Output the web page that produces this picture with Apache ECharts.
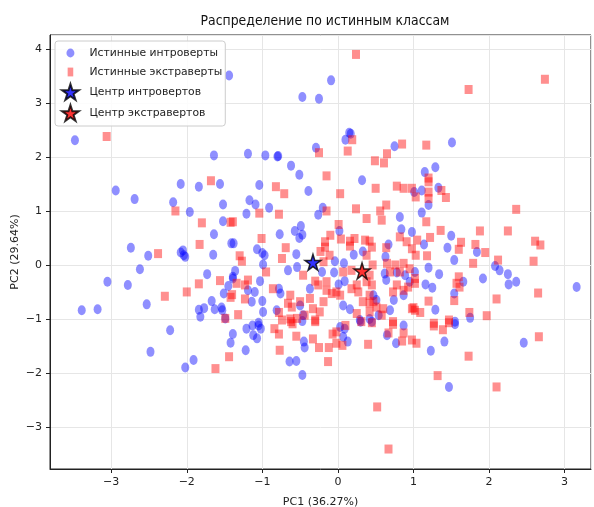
<!DOCTYPE html>
<html>
<head>
<meta charset="utf-8">
<script src="https://cdn.jsdelivr.net/npm/echarts@6/dist/echarts.min.js"></script>
<style>
  html, body { margin: 0; padding: 0; background: #fff; }
  #chart { width: 594px; height: 507px; }
</style>
</head>
<body>
<div id="chart"></div>
<script>
// PCA projection, coloured by true class
const introverts = [
  [-1.44,3.52],[-3.48,2.32],[-1.64,2.04],[-0.09,3.43],[-0.47,3.12],[-0.25,3.09],[0.15,2.46],[0.17,2.44],
  [0.10,2.33],[-0.29,2.18],[0.75,2.21],[-1.19,2.07],[-0.96,2.04],[-0.80,2.02],[-0.79,2.03],[-0.62,1.85],
  [-0.51,1.68],[0.32,1.58],[1.51,2.28],[1.29,1.82],[1.15,1.73],
  [-2.94,1.39],[-2.69,1.23],[-2.08,1.51],[-1.84,1.46],[-1.56,1.51],[-2.18,1.17],[-1.96,0.99],[-1.52,1.13],
  [-1.52,0.82],[-1.64,0.58],[-1.41,0.41],[-2.74,0.33],[-2.51,0.18],[-2.05,0.28],[-2.08,0.24],[-2.02,0.16],
  [-2.04,0.19],[-1.65,0.20],[-2.62,-0.07],[-1.73,-0.16],[-3.05,-0.30],[-2.78,-0.36],[-1.45,-0.38],[-1.39,-0.24],
  [-1.51,-0.52],[-3.39,-0.83],[-3.18,-0.81],[-2.53,-0.72],[-1.67,-0.66],[-1.84,-0.82],[-1.77,-0.79],[-1.82,-0.95],
  [-1.63,-0.81],[-1.54,-0.78],[-1.53,-0.83],[-1.49,-0.98],
  [-2.22,-1.20],[-2.48,-1.60],[-1.91,-1.75],[-2.02,-1.89],[-1.39,-1.27],[-1.42,-1.43],
  [-1.22,-1.57],[-1.21,-1.17],[-1.13,-1.11],[-1.05,-1.11],[-1.02,-1.17],[-1.12,-1.29],[-1.07,-1.35],[-0.64,-1.78],
  [-0.55,-1.77],[-0.47,-2.03],[-0.45,-1.41],[-0.44,-1.52],[0.03,-1.14],[0.09,-1.17],[0.07,-1.32],[0.13,-1.41],
  [0.30,-1.04],[0.45,-1.04],[0.87,-1.11],[0.65,-1.29],[0.77,-1.44],
  [1.55,-1.09],[1.75,-0.97],[1.41,-1.41],[1.23,-1.58],[1.47,-2.25],[2.46,-1.43],
  [3.16,-0.40],[1.84,0.25],[2.08,-0.01],[2.14,-0.09],[2.25,-0.16],[2.26,-0.35],[2.36,-0.30],[1.92,-0.24],
  [1.50,0.55],[1.45,0.33],[1.54,0.10],[1.34,-0.16],[1.20,-0.04],[1.66,-0.30],[1.54,-0.52],[1.16,-0.35],
  [1.25,-0.41],[1.29,-0.82],[1.55,-1.04],[1.14,0.39],[0.98,0.62],[1.20,1.12],[1.11,0.98],[1.11,1.39],
  [1.01,1.36],[1.33,1.44],
  [-1.04,1.49],[-1.17,1.21],[-1.09,1.13],[-0.91,1.07],[-1.21,0.96],[-0.39,1.38],[-0.20,1.07],[-0.26,0.94],
  [0.82,0.90],[0.84,0.67],[-0.77,0.58],[-0.57,0.64],[-0.49,0.73],[-0.51,0.51],[-0.47,0.57],[0.02,0.64],
  [-1.38,0.41],[-1.07,0.30],[-1.00,0.23],[-0.97,0.19],[-0.55,0.21],[-0.66,-0.09],[-0.54,-0.03],[-0.99,0.02],
  [-1.36,-0.10],[-1.39,-0.21],[-0.21,-0.12],[-0.05,-0.13],[-0.04,0.08],[0.08,0.04],[0.21,0.20],[0.33,0.26],
  [0.63,0.16],[0.67,0.39],[0.62,-0.15],[0.64,-0.27],[0.78,-0.13],[-1.03,-0.29],[-1.19,-0.46],[-1.10,-0.49],
  [-0.78,-0.43],[-0.76,-0.52],[-0.37,-0.43],[0.09,-0.29],[0.01,-0.35],[-1.14,-0.67],[-1.00,-0.66],[-0.99,-0.86],
  [-0.81,-0.83],[-0.50,-0.74],[0.07,-0.74],[0.16,-0.81],[0.47,-0.55],[0.51,-0.64],[0.74,-0.64],[0.69,-0.83],
  [0.29,-1.01],[0.42,-0.99],[0.54,-0.92],[-0.47,-1.03],[-0.46,-0.92],[-1.05,-1.06],[0.95,-0.30],[0.89,-0.18],
  [1.02,-0.12],[0.87,-0.55]
]

const extraverts = [
  [-3.06,2.39],[0.24,3.91],[0.19,2.33],[0.13,2.12],[-0.25,2.09],[0.85,2.25],[0.65,2.07],[0.49,1.94],
  [0.61,1.90],[-0.15,1.66],[1.73,3.26],[2.74,3.45],[1.17,2.23],[1.20,1.62],
  [-1.68,1.57],[-2.15,1.01],[-1.80,0.79],[-1.42,0.80],[-1.83,0.39],[-2.38,0.22],[-1.84,-0.34],[-1.56,-0.28],
  [-2.29,-0.57],[-2.00,-0.49],[-1.42,-0.59],[-1.49,-0.98],[-1.62,-1.91],[-1.44,-1.69],
  [-0.84,-1.17],[-0.78,-1.27],[-0.77,-1.57],[-0.55,-1.31],[-0.33,-1.36],[-0.25,-1.52],[-0.12,-1.52],[-0.13,-1.78],
  [-0.30,-1.04],[-0.62,-1.04],[-0.60,-1.08],[-0.07,-1.27],[-0.02,-1.23],[-0.02,-1.44],[0.10,-1.11],[0.06,-1.48],
  [0.40,-1.46],[0.52,-2.62],[0.67,-3.40],[0.45,-1.06],[0.73,-1.09],[0.67,-1.25],[0.87,-1.25],[0.85,-1.40],
  [0.98,-1.38],[1.04,-1.44],[1.27,-1.12],[1.39,-1.19],[1.47,-1.06],[1.73,-1.68],[1.32,-2.04],[2.10,-2.25],
  [2.66,-1.32],
  [2.36,1.04],[1.88,0.64],[2.25,0.64],[2.61,0.45],[2.68,0.38],[2.59,0.08],[2.65,-0.51],[1.82,0.39],
  [1.95,0.24],[2.12,0.10],[1.79,0.04],[2.10,-0.62],[1.97,-0.93],[1.74,-0.87],[1.63,0.43],[1.60,0.30],
  [1.60,-0.21],[1.57,-0.33],[1.61,-0.40],[1.54,-0.65],[1.20,-0.66],[1.00,-0.78],[1.02,-0.83],[1.09,-0.87],
  [1.02,-0.24],[1.02,-0.33],[1.47,-1.01],[1.27,-1.07],[1.36,0.65],[1.22,0.52],[1.05,0.47],[1.03,0.19],
  [1.18,0.18],[1.17,0.81],[1.20,1.55],[1.20,1.36],[1.20,1.24],[1.37,1.39],[1.43,1.26],[1.03,1.27],[0.98,1.43],
  [-0.82,1.46],[-0.71,1.33],[0.03,1.33],[0.50,1.43],[0.78,1.47],[0.87,1.43],[-1.04,0.97],[-0.78,0.95],
  [-1.39,0.81],[-0.15,1.01],[0.24,1.05],[0.38,0.87],[0.64,1.12],[0.56,1.01],[0.58,0.84],[0.01,0.76],
  [-0.10,0.56],[-0.17,0.44],[-1.01,0.50],[-0.69,0.33],[-0.74,0.13],[-1.30,0.18],[-1.27,0.08],[-0.23,0.26],
  [-0.17,0.34],[-0.11,0.19],[-0.19,0.07],[0.04,0.49],[0.16,0.45],[0.22,0.50],[0.36,0.47],[0.42,0.45],
  [0.16,0.36],[0.45,0.34],[0.38,0.19],[0.46,0.01],[0.64,0.33],[0.82,0.53],[0.91,0.44],[0.98,0.31],
  [0.65,0.04],[0.76,0.01],[0.87,0.04],[0.95,-0.06],[0.69,-0.12],[0.82,-0.12],[0.07,-0.12],[0.18,-0.09],
  [0.42,-0.18],[0.45,-0.36],[0.38,-0.30],[0.25,-0.36],[0.18,-0.43],[0.27,-0.49],[0.42,-0.55],[0.47,-0.67],
  [0.51,-0.77],[0.42,-0.70],[0.33,-0.67],[0.78,-0.36],[0.87,-0.46],[0.93,-0.40],[0.73,-0.49],[0.60,-0.80],
  [0.58,-0.92],[0.98,-0.80],[0.73,-1.04],[-1.19,-0.27],[-1.23,-0.36],[-1.34,-0.33],[-1.40,-0.54],[-0.95,-0.12],
  [-0.86,-0.43],[-1.23,-0.62],[-0.46,-0.18],[-0.30,-0.29],[-0.26,-0.36],[-0.15,-0.30],[-0.15,-0.46],[-0.08,-0.52],
  [-0.02,-0.49],[0.03,-0.55],[-0.63,-0.55],[-0.66,-0.70],[-0.61,-0.77],[-0.37,-0.61],[-0.33,-0.80],[-0.19,-0.67],
  [-0.24,-0.86],[-0.50,-0.67],[-0.78,-0.87],[-0.74,-1.01],[-0.63,-0.99],[-0.54,-0.98],[-0.44,-0.92],[-1.32,-0.91],
  [-0.30,-1.01],[0.25,-0.89],[0.31,-1.04],[0.42,-0.86]
]

const introCenter = [[-0.33, 0.06]]
const extraCenter = [[0.32, -0.10]]

const seriesNames = ['Истинные интроверты', 'Истинные экстраверты', 'Центр интровертов', 'Центр экстравертов']
const titleText = 'Распределение по истинным классам'

const STAR = 'path://M50,0 L61,35 L98,35 L68,57 L79,91 L50,70 L21,91 L32,57 L2,35 L39,35 Z'
// legend icons: padded so they come out smaller than the stars
const DOT_ICON = 'path://M0,0 M20,20 M10,4.5 A5,5.5 0 1,1 9.99,4.5 Z'
const SQ_ICON = 'path://M0,0 M20,20 M6.5,4.5 L13.5,4.5 L13.5,15.5 L6.5,15.5 Z'
const FONT = 'DejaVu Sans'

const minus = v => Number.isInteger(v) ? String(v).replace('-', '\u2212') : ''

const chart = echarts.init(document.getElementById('chart'), null, { renderer: 'canvas' })

const axisCommon = {
  axisLine: { show: true, onZero: false, lineStyle: { color: '#222', width: 1 } },
  axisTick: { show: true, length: 4, lineStyle: { color: '#222' } },
  axisLabel: { color: '#222', fontSize: 11, fontFamily: FONT, formatter: minus, showMinLabel: false, showMaxLabel: false },
  splitLine: { show: true, lineStyle: { color: '#e6e6e6', width: 1 } },
  nameLocation: 'middle',
  nameMoveOverlap: false,
  nameTextStyle: { color: '#222', fontSize: 11, fontFamily: FONT }
}

chart.setOption({
  animation: false,
  graphic: [{
    type: 'text', x: 325, y: 21.5, scaleX: 0.89,
    style: {
      text: titleText, fill: '#111', align: 'center', verticalAlign: 'middle',
      font: '14px "DejaVu Sans"'
    }
  }],
  legend: {
    orient: 'vertical',
    left: 55, top: 41,
    padding: [4, 3, 4, 6],
    itemGap: 3,
    itemWidth: 18, itemHeight: 16,
    borderColor: '#cccccc', borderWidth: 1, borderRadius: 3,
    backgroundColor: 'rgba(255,255,255,0.85)',
    textStyle: { fontSize: 10.8, color: '#222', fontFamily: FONT, padding: [0, 0, 0, 5] },
    data: [
      { name: seriesNames[0], icon: DOT_ICON },
      { name: seriesNames[1], icon: SQ_ICON },
      { name: seriesNames[2], icon: STAR },
      { name: seriesNames[3], icon: STAR }
    ]
  },
  grid: { left: 50, top: 35, right: 3, bottom: 38, outerBoundsMode: 'none', show: true, borderColor: '#222', borderWidth: 1 },
  xAxis: Object.assign({}, axisCommon, {
    type: 'value', min: -3.81, max: 3.35, splitNumber: 7,
    name: 'PC1 (36.27%)', nameGap: 28
  }),
  yAxis: Object.assign({}, axisCommon, {
    type: 'value', min: -3.77, max: 4.27, splitNumber: 8,
    name: 'PC2 (29.64%)', nameGap: 29
  }),
  series: [
    {
      name: seriesNames[0], type: 'scatter', data: introverts,
      symbol: 'circle', symbolSize: [8, 10],
      itemStyle: { color: 'rgba(0,0,255,0.55)' }
    },
    {
      name: seriesNames[1], type: 'scatter', data: extraverts,
      symbol: 'rect', symbolSize: [8, 9],
      itemStyle: { color: 'rgba(255,0,0,0.55)' }
    },
    {
      name: seriesNames[2], type: 'scatter', data: introCenter,
      symbol: STAR, symbolSize: 16, z: 5,
      itemStyle: { color: '#0000ff', borderColor: '#000', borderWidth: 1.5 }
    },
    {
      name: seriesNames[3], type: 'scatter', data: extraCenter,
      symbol: STAR, symbolSize: 16, z: 5,
      itemStyle: { color: '#ff0000', borderColor: '#000', borderWidth: 1.5 }
    }
  ]
})
</script>
</body>
</html>
